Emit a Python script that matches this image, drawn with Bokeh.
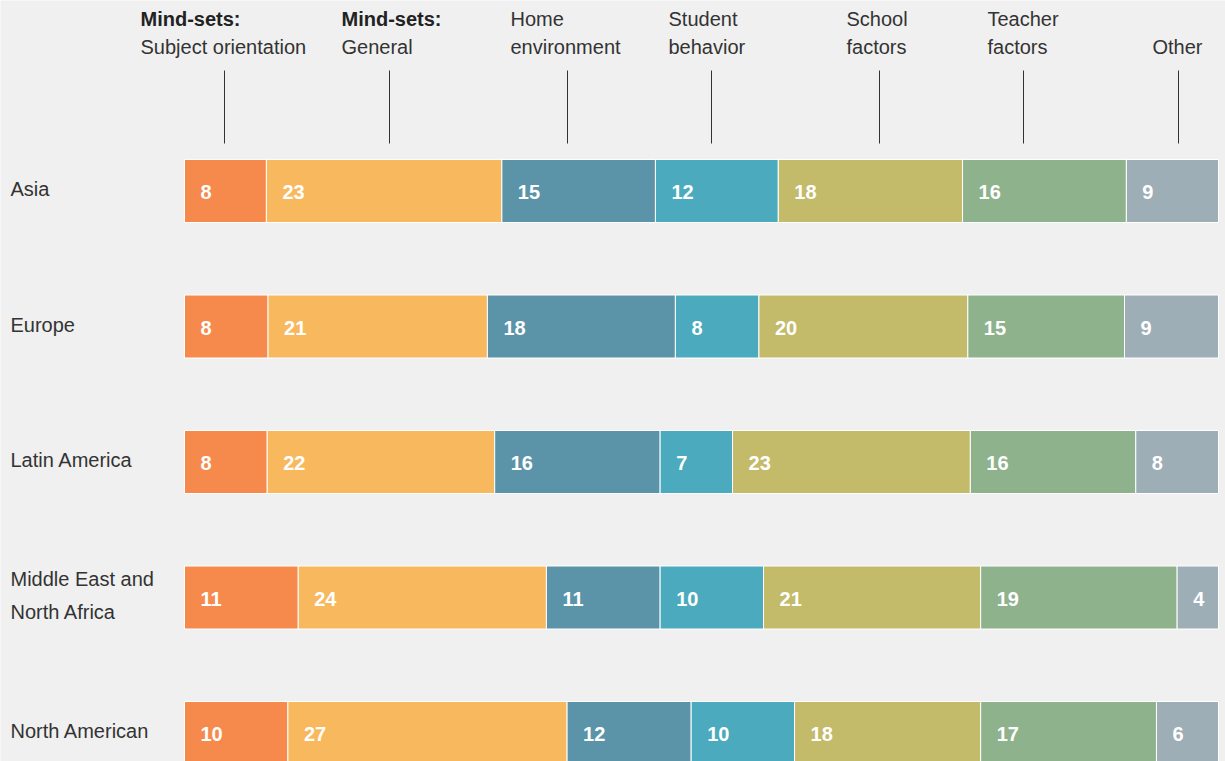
from bokeh.plotting import figure
from bokeh.models import Range1d, ColumnDataSource
from bokeh.embed import file_html
from bokeh.resources import INLINE
from bokeh.core.properties import value

# ---------------- data ----------------
regions = ["Asia", "Europe", "Latin America", "Middle East and\nNorth Africa", "North American"]
categories = ["Mind-sets: Subject orientation", "Mind-sets: General", "Home environment",
              "Student behavior", "School factors", "Teacher factors", "Other"]
subject_orientation = [8, 8, 8, 11, 10]
general = [23, 21, 22, 24, 27]
home_environment = [15, 18, 16, 11, 12]
student_behavior = [12, 8, 7, 10, 10]
school_factors = [18, 20, 23, 21, 18]
teacher_factors = [16, 15, 16, 19, 17]
other = [9, 9, 8, 4, 6]
series = [subject_orientation, general, home_environment, student_behavior,
          school_factors, teacher_factors, other]

header_bold = ["Mind-sets:", "Mind-sets:", "", "", "", "", ""]
header_line1 = ["", "", "Home", "Student", "School", "Teacher", ""]
header_line2 = ["Subject orientation", "General", "environment", "behavior", "factors", "factors", "Other"]

colors = ["#F68A4C", "#F8B85E", "#5B94A8", "#4BAABD", "#C3BB6A", "#8DB28C", "#9EAEB7"]
BG = "#F0F0F0"
TXT = "#333333"
FONT = "Liberation Sans"

# ---------------- layout ----------------
W, H = 1225, 761
bar_left_px, bar_right_px = 184, 1218
ppu_x = (bar_right_px - bar_left_px) / 100.0
row_gap_px = 135.5
first_row_px = 190.5

def fx(px):
    return (px - bar_left_px) / ppu_x

def fy(px):
    return (first_row_px - px) / row_gap_px

x_range = Range1d(fx(0), fx(W))
y_range = Range1d(fy(H), fy(0))

p = figure(width=W, height=H, x_range=x_range, y_range=y_range,
           output_backend="svg", toolbar_location=None, min_border=0)
p.axis.visible = False
p.grid.visible = False
p.outline_line_color = None
p.background_fill_color = BG
p.border_fill_color = BG

# ---------------- bars ----------------
ys = [-i for i in range(len(regions))]
lefts, rights, yy, fills, labels = [], [], [], [], []
for i in range(len(regions)):
    vals = [s[i] for s in series]
    total = float(sum(vals))
    cum = 0.0
    for j, v in enumerate(vals):
        lefts.append(cum / total * 100)
        cum += v
        rights.append(cum / total * 100)
        yy.append(ys[i])
        fills.append(colors[j])
        labels.append(str(v))

src = ColumnDataSource(dict(left=lefts, right=rights, y=yy, color=fills, label=labels))
bar_h = 63 / row_gap_px
p.hbar(y="y", left="left", right="right", height=bar_h, fill_color="color",
       line_color="white", line_width=1, source=src)
p.text(x="left", y="y", text="label", source=src, x_offset=16, y_offset=1,
       text_color="white", text_font=value(FONT), text_font_style="bold",
       text_font_size="20px", text_baseline="middle", text_align="left")

# ---------------- region labels ----------------
p.text(x=[fx(10)] * len(regions), y=ys, text=regions, y_offset=-2,
       text_color=TXT, text_font=value(FONT), text_font_size="20px",
       text_baseline="middle", text_align="left", text_line_height=1.5)

# ---------------- headers ----------------
head_x_px = [140, 341, 510, 668, 846, 987, 1152]
line_x_px = [224, 389, 567, 711, 879, 1023, 1178]
hx = [fx(v) for v in head_x_px]
p.text(x=hx, y=[fy(18)] * 7, text=header_bold, text_color="#222222",
       text_font=value(FONT), text_font_style="bold", text_font_size="20px",
       text_baseline="middle", text_align="left")
p.text(x=hx, y=[fy(18)] * 7, text=header_line1, text_color=TXT,
       text_font=value(FONT), text_font_size="20px",
       text_baseline="middle", text_align="left")
p.text(x=hx, y=[fy(46)] * 7, text=header_line2, text_color=TXT,
       text_font=value(FONT), text_font_size="20px",
       text_baseline="middle", text_align="left")
lx = [fx(v) for v in line_x_px]
p.segment(x0=lx, x1=lx, y0=[fy(70)] * 7, y1=[fy(143)] * 7,
          line_color="#333333", line_width=1)

html = file_html(p, INLINE)
html = html.replace("<body>", '<body style="background:%s">' % BG, 1)
open("out.html", "w").write(html)
